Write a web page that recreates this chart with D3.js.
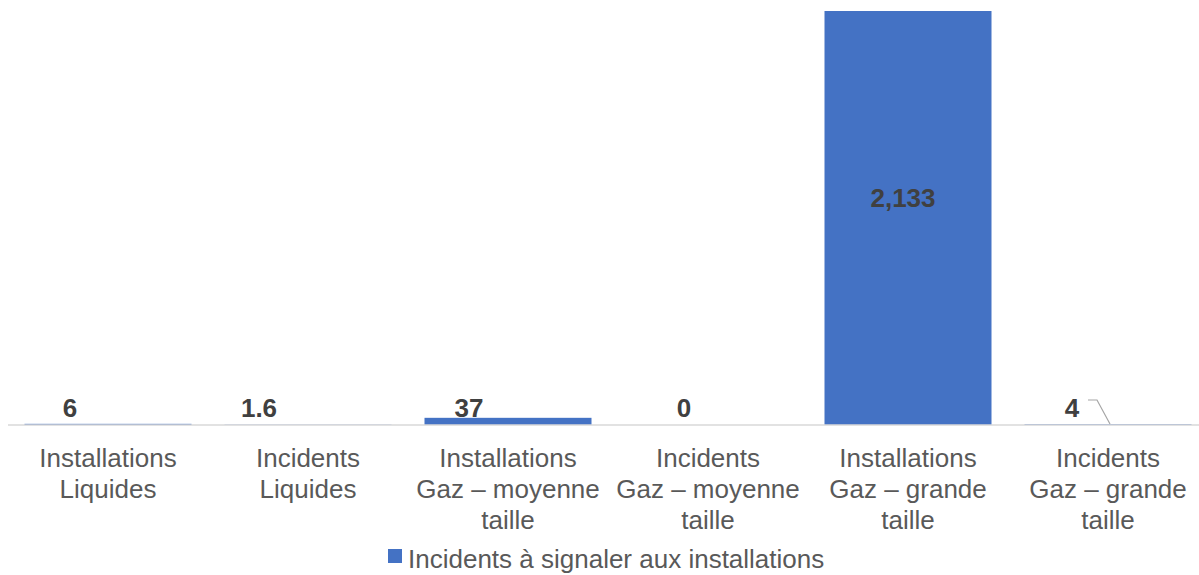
<!DOCTYPE html>
<html>
<head>
<meta charset="utf-8">
<script src="https://cdn.jsdelivr.net/npm/d3@7"></script>
<style>
  body { margin: 0; background: #fff; }
  svg { display: block; font-family: "Liberation Sans", Arial, sans-serif; }
</style>
</head>
<body>
<div id="chart"></div>
<script>
// data
var categories = [
  ["Installations", "Liquides"],
  ["Incidents", "Liquides"],
  ["Installations", "Gaz \u2013 moyenne", "taille"],
  ["Incidents", "Gaz \u2013 moyenne", "taille"],
  ["Installations", "Gaz \u2013 grande", "taille"],
  ["Incidents", "Gaz \u2013 grande", "taille"]
];
var values = [6, 1.6, 37, 0, 2133, 4];
var valueLabels = ["6", "1.6", "37", "0", "2,133", "4"];
var seriesName = "Incidents \u00e0 signaler aux installations";

// label nudges (Excel placed them a bit left of the bars)
var labelDx = [-38, -49, -39, -24, -5, -36];

var width = 1199, height = 575;
var blue = "#4472c4";

var svg = d3.select("#chart").append("svg")
  .attr("width", width)
  .attr("height", height);

var x = d3.scaleBand()
  .domain(d3.range(values.length))
  .range([8, 1208])
  .paddingInner(0.165)
  .paddingOuter(0.0825);

var y = d3.scaleLinear()
  .domain([0, d3.max(values)])
  .range([425, 11]);

// bars
svg.selectAll(".bar")
  .data(values)
  .enter().append("rect")
  .attr("class", "bar")
  .attr("x", function(d, i) { return x(i); })
  .attr("width", x.bandwidth())
  .attr("y", function(d) { return y(d); })
  .attr("height", function(d) { return y(0) - y(d); })
  .attr("fill", blue);

// baseline
svg.append("line")
  .attr("x1", 8).attr("x2", width)
  .attr("y1", y(0)).attr("y2", y(0))
  .attr("stroke", "#d9d9d9")
  .attr("stroke-width", 1.6);

// value labels
var big = d3.max(values);
svg.selectAll(".val")
  .data(values)
  .enter().append("text")
  .attr("class", "val")
  .attr("x", function(d, i) { return x(i) + x.bandwidth() / 2 + labelDx[i]; })
  .attr("y", function(d) { return d === big ? y(d) + 196 : 417; })
  .attr("text-anchor", "middle")
  .attr("font-size", 26)
  .attr("font-weight", "bold")
  .attr("fill", "#404040")
  .text(function(d, i) { return valueLabels[i]; });

// leader line for the last label
var last = values.length - 1;
var lx = x(last) + x.bandwidth() / 2 + labelDx[last];
svg.append("path")
  .attr("d", "M" + (lx + 16) + ",400 L" + (lx + 25) + ",400 L" + (lx + 38) + "," + (y(0) - 1))
  .attr("fill", "none")
  .attr("stroke", "#a6a6a6")
  .attr("stroke-width", 1.2);

// category labels
var cat = svg.selectAll(".cat")
  .data(categories)
  .enter().append("text")
  .attr("class", "cat")
  .attr("text-anchor", "middle")
  .attr("font-size", 26)
  .attr("fill", "#595959");

cat.selectAll("tspan")
  .data(function(d, i) { return d.map(function(t) { return { t: t, i: i }; }); })
  .enter().append("tspan")
  .attr("x", function(d) { return x(d.i) + x.bandwidth() / 2; })
  .attr("y", function(d, j) { return 467 + j * 31; })
  .text(function(d) { return d.t; });

// legend
var legend = svg.append("g");
legend.append("rect")
  .attr("x", 388).attr("y", 549)
  .attr("width", 14).attr("height", 14)
  .attr("fill", blue);
legend.append("text")
  .attr("x", 408).attr("y", 568)
  .attr("font-size", 26)
  .attr("fill", "#595959")
  .text(seriesName);
</script>
</body>
</html>
